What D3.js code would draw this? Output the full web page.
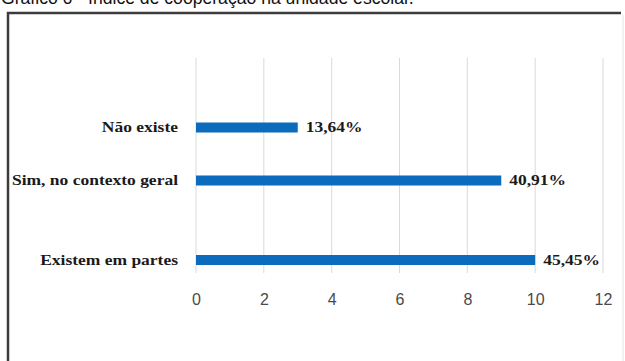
<!DOCTYPE html>
<html>
<head>
<meta charset="utf-8">
<script src="https://cdn.jsdelivr.net/npm/d3@7"></script>
<style>
  html, body { margin: 0; padding: 0; background: #fff; }
  svg { display: block; }
</style>
</head>
<body>
<svg id="chart" width="625" height="361"></svg>
<script>
// Índice de cooperação na unidade escolar (respostas, n = 22)
const categories = ["Não existe", "Sim, no contexto geral", "Existem em partes"];
const counts = [3, 9, 10];
const percentLabels = ["13,64%", "40,91%", "45,45%"];
const xTicks = [0, 2, 4, 6, 8, 10, 12];
// Row slots: the three answers sit on an uneven grid with empty rows between them
const rowSlots = ["Não existe", "vazio-1", "Sim, no contexto geral", "vazio-2", "vazio-3", "Existem em partes"];
const title = "Gráfico 6 - Índice de cooperação na unidade escolar.";

const svg = d3.select("#chart");

// Title, running off the top edge of the page
svg.append("text")
  .attr("x", 1).attr("y", 4)
  .attr("font-family", "Liberation Sans, Arial, sans-serif")
  .attr("font-size", 17.6)
  .attr("fill", "#111")
  .text(title);

// Frame
svg.append("path")
  .attr("d", "M8,361 L8,13 L621,13")
  .attr("fill", "none")
  .attr("stroke", "#3c3c3c")
  .attr("stroke-width", 2.5);
svg.append("line")
  .attr("x1", 623).attr("x2", 623).attr("y1", 15).attr("y2", 361)
  .attr("stroke", "#e4e4e4").attr("stroke-width", 1);

const x = d3.scaleLinear().domain([0, 12]).range([196, 603]);
const y = d3.scalePoint().domain(rowSlots).range([127.5, 260]);
const barH = 10;

// Vertical gridlines
svg.append("g")
  .selectAll("line")
  .data(xTicks)
  .join("line")
  .attr("x1", d => x(d)).attr("x2", d => x(d))
  .attr("y1", 58).attr("y2", 273)
  .attr("stroke", "#d9d9d9")
  .attr("stroke-width", 1);

// Tick labels
const axis = d3.axisBottom(x).tickValues(xTicks).tickSize(0).tickPadding(0);
const gAxis = svg.append("g").attr("transform", "translate(0,299)").call(axis);
gAxis.select(".domain").remove();
gAxis.selectAll("text")
  .attr("y", 0)
  .attr("dy", "0.35em")
  .attr("font-family", "Liberation Sans, Arial, sans-serif")
  .attr("font-size", 16)
  .attr("fill", "#4a4a4a");

const rows = categories.map((c, i) => ({ cat: c, v: counts[i], label: percentLabels[i] }));

// Bars
svg.append("g")
  .selectAll("rect")
  .data(rows)
  .join("rect")
  .attr("x", x(0))
  .attr("y", d => y(d.cat) - barH / 2)
  .attr("width", d => x(d.v) - x(0))
  .attr("height", barH)
  .attr("fill", "#0b6bbd");

const serif = "Liberation Serif, Times New Roman, serif";
const stretch = 1.25;

// Category labels
svg.append("g")
  .selectAll("text")
  .data(rows)
  .join("text")
  .attr("transform", d => `translate(${x(0) - 18},${y(d.cat)}) scale(${stretch},1)`)
  .attr("dy", "0.35em")
  .attr("text-anchor", "end")
  .attr("font-family", serif)
  .attr("font-weight", "bold")
  .attr("font-size", 14)
  .attr("fill", "#1a1a1a")
  .text(d => d.cat);

// Value labels
svg.append("g")
  .selectAll("text")
  .data(rows)
  .join("text")
  .attr("transform", d => `translate(${x(d.v) + 8},${y(d.cat)}) scale(${stretch},1)`)
  .attr("dy", "0.35em")
  .attr("font-family", serif)
  .attr("font-weight", "bold")
  .attr("font-size", 14)
  .attr("fill", "#1a1a1a")
  .text(d => d.label);
</script>
</body>
</html>
